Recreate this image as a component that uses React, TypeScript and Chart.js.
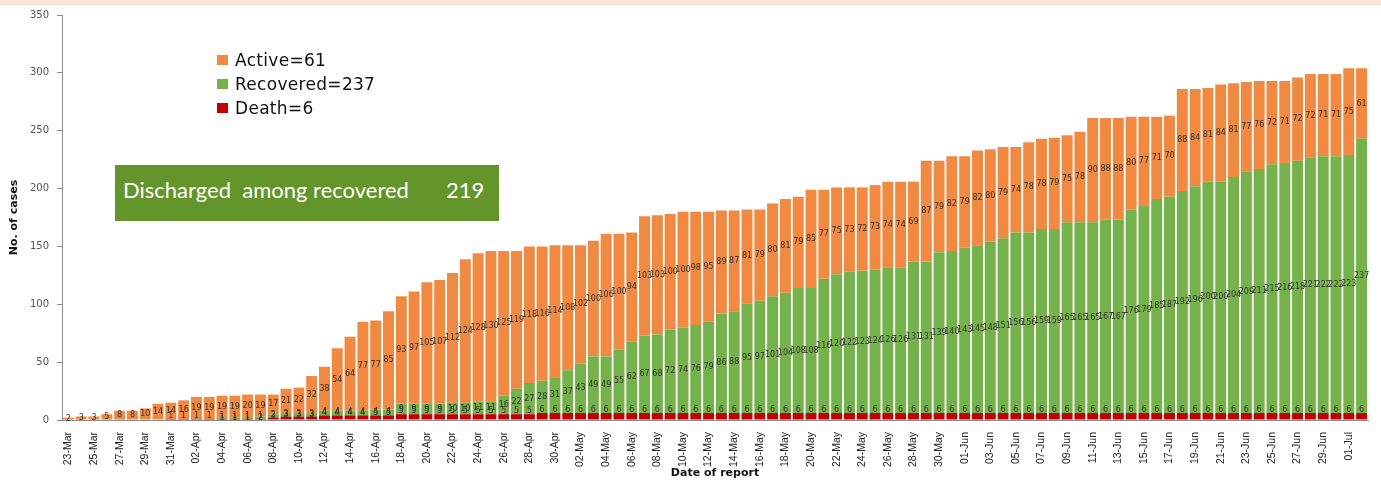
import React, { useEffect, useRef } from 'react';
import { Chart, registerables } from 'chart.js';

Chart.register(...registerables);

const dates = [
  '23-Mar', '24-Mar', '25-Mar', '26-Mar', '27-Mar', '28-Mar', '29-Mar', '30-Mar', '31-Mar',
  '01-Apr', '02-Apr', '03-Apr', '04-Apr', '05-Apr', '06-Apr', '07-Apr', '08-Apr', '09-Apr', '10-Apr',
  '11-Apr', '12-Apr', '13-Apr', '14-Apr', '15-Apr', '16-Apr', '17-Apr', '18-Apr', '19-Apr', '20-Apr',
  '21-Apr', '22-Apr', '23-Apr', '24-Apr', '25-Apr', '26-Apr', '27-Apr', '28-Apr', '29-Apr', '30-Apr',
  '01-May', '02-May', '03-May', '04-May', '05-May', '06-May', '07-May', '08-May', '09-May', '10-May',
  '11-May', '12-May', '13-May', '14-May', '15-May', '16-May', '17-May', '18-May', '19-May', '20-May',
  '21-May', '22-May', '23-May', '24-May', '25-May', '26-May', '27-May', '28-May', '29-May', '30-May', '31-May',
  '01-Jun', '02-Jun', '03-Jun', '04-Jun', '05-Jun', '06-Jun', '07-Jun', '08-Jun', '09-Jun', '10-Jun',
  '11-Jun', '12-Jun', '13-Jun', '14-Jun', '15-Jun', '16-Jun', '17-Jun', '18-Jun', '19-Jun', '20-Jun',
  '21-Jun', '22-Jun', '23-Jun', '24-Jun', '25-Jun', '26-Jun', '27-Jun', '28-Jun', '29-Jun', '30-Jun',
  '01-Jul', '02-Jul',
];

const active = [
  2, 3, 3, 5, 8, 8, 10, 14, 14,
  16, 19, 19, 19, 19, 20, 19, 17, 21, 22,
  32, 38, 54, 64, 77, 77, 85, 93, 97, 105,
  107, 112, 124, 128, 130, 125, 119, 118, 116, 114,
  108, 102, 100, 106, 100, 94, 103, 103, 100, 100,
  98, 95, 89, 87, 81, 79, 80, 81, 79, 85,
  77, 75, 73, 72, 73, 74, 74, 69, 87, 79, 82,
  79, 82, 80, 79, 74, 78, 78, 79, 75, 78,
  90, 88, 88, 80, 77, 71, 70, 88, 84, 81,
  84, 81, 77, 76, 72, 71, 72, 72, 71, 71,
  75, 61,
];

const recovered = [
  0, 0, 0, 0, 0, 0, 0, 0, 0,
  0, 0, 0, 1, 1, 1, 2, 3, 3, 3,
  3, 4, 4, 4, 4, 5, 5, 9, 9, 9,
  9, 10, 10, 11, 11, 16, 22, 27, 28, 31,
  37, 43, 49, 49, 55, 62, 67, 68, 72, 74,
  76, 79, 86, 88, 95, 97, 101, 104, 108, 108,
  116, 120, 122, 123, 124, 126, 126, 131, 131, 139, 140,
  143, 145, 148, 151, 156, 156, 159, 159, 165, 165,
  165, 167, 167, 176, 179, 185, 187, 192, 196, 200,
  200, 204, 209, 211, 215, 216, 218, 221, 222, 222,
  223, 237,
];

const death = [
  0, 0, 0, 0, 0, 0, 0, 0, 1,
  1, 1, 1, 1, 1, 1, 1, 2, 3, 3,
  3, 4, 4, 4, 4, 4, 4, 5, 5, 5,
  5, 5, 5, 5, 5, 5, 5, 5, 6, 6,
  6, 6, 6, 6, 6, 6, 6, 6, 6, 6,
  6, 6, 6, 6, 6, 6, 6, 6, 6, 6,
  6, 6, 6, 6, 6, 6, 6, 6, 6, 6, 6,
  6, 6, 6, 6, 6, 6, 6, 6, 6, 6,
  6, 6, 6, 6, 6, 6, 6, 6, 6, 6,
  6, 6, 6, 6, 6, 6, 6, 6, 6, 6,
  6, 6,
];

const yTicks = [0, 50, 100, 150, 200, 250, 300, 350];

const legendItems = [
  { text: 'Active=61', color: '#F08A42' },
  { text: 'Recovered=237', color: '#76B24B' },
  { text: 'Death=6', color: '#C00000' },
];

const ORANGE = '#F08A42';
const GREEN = '#76B24B';
const RED = '#C00000';

const segLabels = {
  id: 'segLabels',
  afterDatasetsDraw(chart: any) {
    const ctx = chart.ctx;
    ctx.save();
    ctx.font = '8px "DejaVu Sans"';
    ctx.fillStyle = '#333333';
    ctx.textAlign = 'center';
    ctx.textBaseline = 'middle';
    chart.data.datasets.forEach((ds: any, di: number) => {
      const meta = chart.getDatasetMeta(di);
      meta.data.forEach((el: any, i: number) => {
        const v = ds.data[i];
        if (!v) return;
        const p = el.getProps(['x', 'y', 'base'], true);
        let cy = (p.y + p.base) / 2;
        if (di === 0) cy = p.y - 3;
        ctx.fillText(String(v), p.x, cy);
      });
    });
    ctx.restore();
  },
};

export default function App() {
  const ref = useRef<HTMLCanvasElement | null>(null);

  useEffect(() => {
    if (!ref.current) return;
    const chart = new Chart(ref.current, {
      type: 'bar',
      data: {
        labels: dates,
        datasets: [
          { label: 'Death', data: death, backgroundColor: RED },
          { label: 'Recovered', data: recovered, backgroundColor: GREEN },
          { label: 'Active', data: active, backgroundColor: ORANGE },
        ],
      },
      options: {
        animation: false,
        responsive: true,
        maintainAspectRatio: false,
        datasets: { bar: { categoryPercentage: 0.86, barPercentage: 1 } },
        layout: { padding: { top: 15, right: 13, left: 0, bottom: 0 } },
        plugins: { legend: { display: false }, tooltip: { enabled: false } },
        scales: {
          x: {
            stacked: true,
            grid: { display: false },
            border: { display: true, color: '#8c8c8c', width: 1 },
            ticks: {
              autoSkip: false,
              maxRotation: 90,
              minRotation: 90,
              padding: 4,
              color: '#222222',
              font: { family: '"Liberation Sans", Arial, sans-serif', size: 10.5 },
              callback: (_v: any, i: number) => (i % 2 === 0 ? dates[i] : ''),
            },
            title: {
              display: true,
              text: 'Date of report',
              color: '#111111',
              font: { family: '"DejaVu Sans", sans-serif', size: 11, weight: 'bold' },
              padding: { top: 2, bottom: 5 },
            },
            afterFit: (s: any) => { s.height = 65; },
          },
          y: {
            stacked: true,
            min: 0,
            max: 350,
            afterBuildTicks: (s: any) => { s.ticks = yTicks.map((v) => ({ value: v })); },
            grid: { display: true, drawOnChartArea: false, drawTicks: true, tickLength: 5, color: '#8c8c8c' },
            border: { display: true, color: '#8c8c8c', width: 1 },
            ticks: {
              padding: 8,
              color: '#555555',
              font: { family: '"DejaVu Sans", sans-serif', size: 10 },
            },
            title: {
              display: true,
              text: 'No. of cases',
              color: '#111111',
              font: { family: '"DejaVu Sans", sans-serif', size: 11, weight: 'bold' },
              padding: { top: 8, bottom: 0 },
            },
            afterFit: (s: any) => { s.width = 62; },
          },
        },
      },
      plugins: [segLabels],
    });
    return () => chart.destroy();
  }, []);

  return (
    <div style={{ position: 'absolute', left: 0, top: 0, width: 1381, height: 485, background: '#ffffff', overflow: 'hidden' }}>
      <div style={{ position: 'absolute', left: 0, top: 0, width: 1381, height: 5, background: '#FCE3D8' }} />
      <canvas ref={ref} style={{ position: 'absolute', left: 0, top: 0, width: 1381, height: 485 }} />
      {legendItems.map((it, i) => (
        <div
          key={it.text}
          style={{
            position: 'absolute',
            left: 217,
            top: 48 + i * 24,
            height: 24,
            display: 'flex',
            alignItems: 'center',
            fontFamily: '"DejaVu Sans", sans-serif',
            fontSize: 17,
            letterSpacing: 0.3,
            color: '#111111',
            whiteSpace: 'nowrap',
          }}
        >
          <span style={{ display: 'inline-block', width: 11, height: 10, background: it.color, marginRight: 7 }} />
          <span>{it.text}</span>
        </div>
      ))}
      <div style={{ position: 'absolute', left: 115, top: 165, width: 384, height: 56, background: '#63952A' }}>
        <span style={{ position: 'absolute', left: 8, top: 14, fontFamily: 'Lato, sans-serif', fontSize: 22, lineHeight: '22px', color: '#ffffff', whiteSpace: 'pre' }}>
          Discharged  among recovered
        </span>
        <span style={{ position: 'absolute', left: 331, top: 14, fontFamily: 'Lato, sans-serif', fontSize: 22, lineHeight: '22px', color: '#ffffff' }}>
          219
        </span>
      </div>
    </div>
  );
}
